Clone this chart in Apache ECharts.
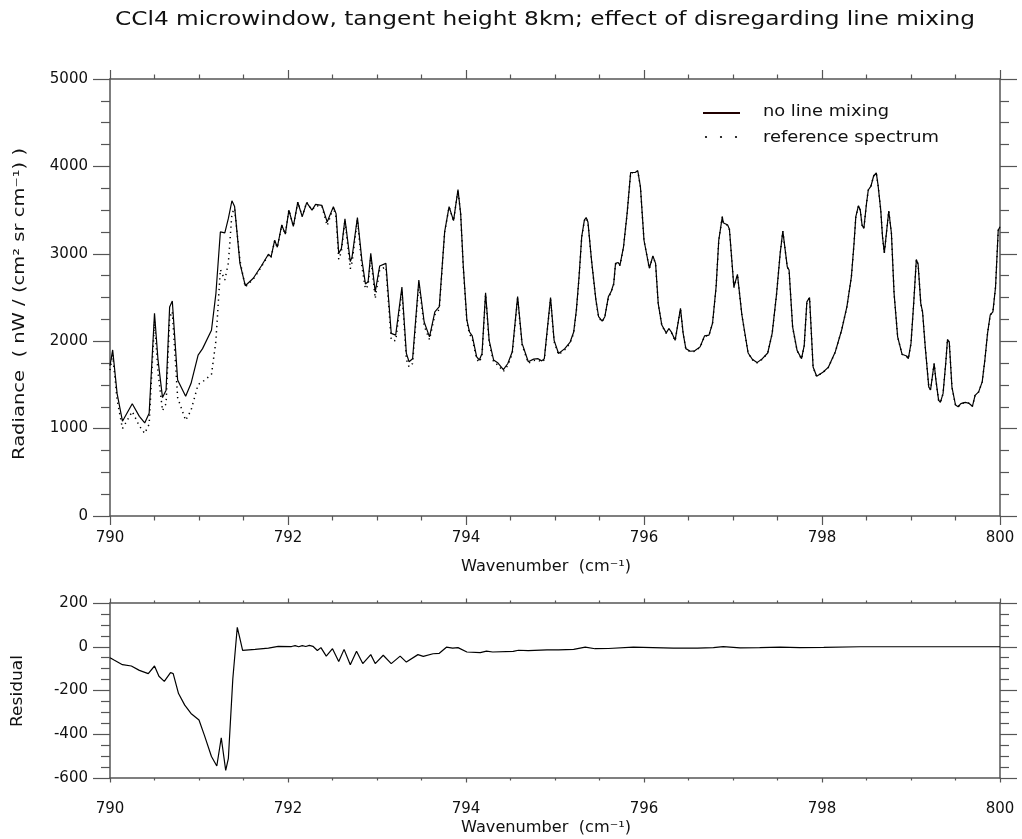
<!DOCTYPE html>
<html>
<head>
<meta charset="utf-8">
<script src="https://cdn.jsdelivr.net/npm/echarts@6/dist/echarts.min.js"></script>
<style>
html,body{margin:0;padding:0;background:#fff;}
#chart{width:1022px;height:839px;}
</style>
</head>
<body>
<div id="chart"></div>
<script>
// ---------------- data ----------------
const titleText = 'CCl4 microwindow, tangent height 8km; effect of disregarding line mixing';
const seriesNames = ['no line mixing', 'reference spectrum'];
const xAxisTitle = 'Wavenumber  (cm\u207B\u00B9)';
const radianceTitle = 'Radiance  ( nW / (cm\u00B2 sr cm\u207B\u00B9) )';
const residualTitle = 'Residual';

const wavenumber = [
790.00,790.03,790.08,790.14,790.25,790.33,790.39,790.44,790.50,790.54,
790.59,790.63,790.67,790.70,790.76,790.85,790.91,790.99,791.04,791.14,
791.19,791.24,791.29,791.33,791.37,791.40,791.46,791.52,791.61,791.70,
791.78,791.81,791.85,791.88,791.93,791.97,792.01,792.06,792.11,792.16,
792.21,792.27,792.31,792.38,792.44,792.51,792.54,792.57,792.60,792.64,
792.70,792.72,792.78,792.83,792.87,792.90,792.93,792.98,793.03,793.10,
793.12,793.16,793.21,793.28,793.33,793.36,793.40,793.47,793.53,793.55,
793.59,793.65,793.70,793.76,793.81,793.86,793.91,793.94,793.97,794.01,
794.04,794.07,794.12,794.15,794.18,794.22,794.26,794.31,794.36,794.42,
794.47,794.52,794.58,794.63,794.70,794.76,794.81,794.85,794.88,794.95,
794.99,795.04,795.11,795.17,795.21,795.24,795.27,795.30,795.33,795.35,
795.37,795.41,795.46,795.49,795.53,795.56,795.60,795.63,795.66,795.68,
795.71,795.73,795.77,795.81,795.85,795.90,795.93,795.96,796.00,796.06,
796.08,796.10,796.13,796.16,796.20,796.25,796.28,796.31,796.35,796.41,
796.44,796.47,796.52,796.57,796.63,796.68,796.73,796.77,796.81,796.84,
796.88,796.89,796.94,796.96,797.01,797.05,797.10,797.12,797.17,797.22,
797.27,797.33,797.39,797.44,797.49,797.53,797.56,797.61,797.63,797.67,
797.72,797.77,797.80,797.83,797.86,797.90,797.94,798.01,798.07,798.15,
798.22,798.28,798.33,798.36,798.38,798.41,798.43,798.45,798.47,798.50,
798.52,798.55,798.58,798.61,798.63,798.66,798.68,798.70,798.72,798.75,
798.78,798.81,798.85,798.90,798.95,798.97,799.00,799.03,799.06,799.08,
799.11,799.13,799.16,799.20,799.22,799.26,799.28,799.31,799.33,799.36,
799.39,799.41,799.43,799.46,799.50,799.53,799.56,799.61,799.65,799.69,
799.72,799.76,799.80,799.83,799.86,799.89,799.92,799.95,799.98,800.00
];

const noLineMixing = [
1720,1900,1400,1085,1285,1140,1065,1175,2320,1780,
1355,1440,2390,2460,1555,1370,1515,1840,1915,2125,
2545,3250,3240,3405,3607,3540,2890,2635,2720,2860,
2995,2965,3155,3075,3330,3225,3500,3315,3590,3425,
3585,3500,3565,3555,3365,3540,3460,3005,3060,3400,
2910,2965,3415,2930,2655,2680,3005,2565,2860,2890,
2620,2090,2070,2620,1860,1765,1800,2700,2220,2200,
2050,2335,2395,3250,3540,3380,3735,3460,2850,2240,
2105,2060,1820,1785,1860,2555,2010,1785,1750,1675,
1745,1880,2510,1975,1765,1795,1800,1775,1800,2500,
2010,1860,1915,1990,2105,2355,2735,3195,3385,3415,
3365,2930,2470,2280,2230,2280,2510,2565,2660,2890,
2900,2870,3080,3460,3930,3930,3950,3765,3155,2835,
2815,2975,2890,2430,2185,2095,2145,2100,2010,2375,
2090,1915,1885,1890,1935,2060,2070,2205,2620,3155,
3425,3355,3330,3280,2620,2765,2300,2290,1865,1790,
1755,1800,1865,2090,2545,3005,3260,2850,2815,2165,
1895,1800,1950,2450,2500,1705,1600,1645,1700,1880,
2125,2395,2735,3120,3425,3550,3500,3330,3290,3575,
3730,3775,3890,3925,3785,3500,3195,3010,3200,3490,
3235,2545,2050,1850,1830,1800,1975,2430,2935,2880,
2430,2335,1935,1475,1445,1745,1555,1325,1300,1400,
1745,2020,1990,1475,1270,1250,1285,1300,1290,1255,
1380,1420,1535,1785,2090,2300,2335,2620,3270,3310
];

const referenceSpectrum = [
1670,1845,1330,1000,1195,1030, 945,1050,2230,1640,
1205,1285,2270,2340,1355,1095,1208,1505,1535,1620,
2005,2820,2700,2895,3460,3520,2925,2620,2710,2850,
2987,2957,3150,3072,3328,3223,3502,3316,3594,3428,
3590,3502,3548,3549,3322,3530,3420,2938,3025,3386,
2828,2905,3392,2858,2598,2638,2967,2488,2818,2850,
2562,2013,2005,2576,1790,1705,1745,2662,2176,2158,
2018,2303,2365,3248,3535,3375,3731,3450,2832,2216,
2079,2033,1793,1758,1834,2535,1987,1761,1727,1653,
1723,1859,2493,1958,1747,1779,1784,1760,1786,2486,
1996,1846,1902,1978,2093,2343,2724,3186,3380,3412,
3360,2922,2461,2272,2222,2272,2502,2557,2653,2884,
2895,2866,3076,3457,3928,3928,3948,3762,3151,2830,
2811,2971,2886,2426,2180,2089,2139,2094,2004,2369,
2084,1909,1879,1884,1929,2055,2066,2201,2617,3152,
3424,3356,3326,3276,2615,2760,2295,2285,1861,1786,
1751,1796,1862,2087,2542,3003,3258,2847,2812,2161,
1891,1796,1946,2447,2497,1702,1597,1642,1697,1878,
2124,2394,2734,3119,3424,3549,3499,3329,3289,3574,
3729,3774,3889,3924,3784,3499,3194,3009,3199,3489,
3234,2544,2049,1849,1829,1799,1974,2429,2934,2879,
2429,2334,1934,1474,1444,1744,1554,1324,1299,1399,
1744,2019,1989,1474,1269,1249,1284,1299,1289,1254,
1379,1419,1534,1784,2089,2299,2334,2619,3269,3309
];

const residualWavenumber = [
790.00,790.05,790.14,790.24,790.33,790.43,790.50,790.55,790.61,790.68,
790.71,790.77,790.84,790.91,791.00,791.06,791.14,791.20,791.25,791.30,
791.33,791.38,791.43,791.46,791.49,791.63,791.78,791.89,792.04,792.08,
792.12,792.16,792.20,792.24,792.28,792.33,792.37,792.43,792.50,792.57,
792.63,792.70,792.77,792.84,792.93,792.98,793.07,793.16,793.26,793.33,
793.46,793.52,793.63,793.70,793.78,793.85,793.91,794.01,794.16,794.23,
794.30,794.53,794.59,794.70,794.91,795.04,795.21,795.34,795.45,795.60,
795.88,796.10,796.33,796.60,796.78,796.89,797.08,797.30,797.53,797.75,
798.02,798.43,798.96,799.50,800.00
];

const residual = [
 -50, -62, -82, -88,-108,-123, -88,-135,-158,-118,
-123,-214,-267,-305,-335,-404,-502,-545,-416,-565,
-510,-146,  89,  37, -17, -12,  -6,   2,   1,   5,
   0,   5,   1,   6,   2, -17,  -4, -43,  -9, -67,
 -12, -82, -21, -77, -36, -77, -39, -77, -43, -70,
 -36, -44, -32, -30,  -2,  -6,  -4, -24, -27, -20,
 -24, -21, -16, -18, -14, -14, -12,  -2,  -9,  -8,
  -2,  -4,  -6,  -6,  -4,   1,  -5,  -4,  -2,  -4,
  -3,   0,   0,   0,   0
];

const xRange = [790, 800];
const xStep = 2;
const radianceRange = [0, 5000];
const radianceStep = 1000;
const residualRange = [-600, 200];
const residualStep = 200;

// ---------------- chart ----------------
const FONT = '"DejaVu Sans", "Liberation Sans", sans-serif';
const AXIS_COLOR = '#555';
const TEXT_COLOR = '#111';

function pairs(xs, ys) { return xs.map((x, i) => [x, ys[i]]); }

function xAxisDef(gridIndex, position, showLabels, majorLen, minorLen, labelMargin) {
  return {
    type: 'value', gridIndex, position,
    min: xRange[0], max: xRange[1], interval: xStep,
    axisLine: { show: true, onZero: false, lineStyle: { color: AXIS_COLOR, width: 1.5 } },
    axisTick: { show: true, inside: false, length: majorLen, lineStyle: { color: AXIS_COLOR, width: 1.2 } },
    minorTick: { show: true, splitNumber: 4, length: minorLen, lineStyle: { color: AXIS_COLOR, width: 1.2 } },
    splitLine: { show: false }, minorSplitLine: { show: false },
    axisLabel: { show: showLabels, fontFamily: FONT, fontSize: 15, color: TEXT_COLOR, margin: labelMargin || 13,
                 formatter: v => String(v) }
  };
}
function yAxisDef(gridIndex, position, range, step, showLabels) {
  return {
    type: 'value', gridIndex, position,
    min: range[0], max: range[1], interval: step,
    axisLine: { show: true, onZero: false, lineStyle: { color: AXIS_COLOR, width: 1.5 } },
    axisTick: { show: true, inside: false, length: 17, lineStyle: { color: AXIS_COLOR, width: 1.2 } },
    minorTick: { show: true, splitNumber: 4, length: 9, lineStyle: { color: AXIS_COLOR, width: 1.2 } },
    splitLine: { show: false }, minorSplitLine: { show: false },
    axisLabel: { show: showLabels, fontFamily: FONT, fontSize: 15, color: TEXT_COLOR, margin: 22,
                 formatter: v => String(v) }
  };
}

// stretch texts horizontally to imitate the wide vector font of the original
const ctx = document.createElement('canvas').getContext('2d');
function stretch(text, font, targetWidth) {
  ctx.font = font;
  return targetWidth / ctx.measureText(text).width;
}
const titleFont = '19px "DejaVu Sans"';
const nameFont = '15px "DejaVu Sans"';
const legendFont = '16px "DejaVu Sans"';

function label(text, font, x, y, width, rotation) {
  return {
    type: 'text', x, y, rotation: rotation || 0, scaleX: stretch(text, font, width), scaleY: 1,
    style: { text, font, fill: TEXT_COLOR,
             align: 'center', verticalAlign: 'middle', textAlign: 'center', textVerticalAlign: 'middle' }
  };
}
function legendLabel(text, x, y, width) {
  return {
    type: 'text', x, y, scaleX: stretch(text, legendFont, width), scaleY: 1,
    style: { text, font: legendFont, fill: TEXT_COLOR,
             align: 'left', verticalAlign: 'middle', textAlign: 'left', textVerticalAlign: 'middle' }
  };
}

const chart = echarts.init(document.getElementById('chart'), null, { renderer: 'canvas' });
chart.setOption({
  animation: false,
  backgroundColor: '#fff',
  grid: [
    { left: 110, top: 79, width: 890, height: 437 },
    { left: 110, top: 603, width: 890, height: 175 }
  ],
  xAxis: [
    xAxisDef(0, 'bottom', true, 9, 4.5, 15),
    xAxisDef(0, 'top', false, 9, 4.5),
    xAxisDef(1, 'bottom', true, 4.5, 2.5, 24),
    xAxisDef(1, 'top', false, 4.5, 2.5)
  ],
  yAxis: [
    yAxisDef(0, 'left', radianceRange, radianceStep, true),
    yAxisDef(0, 'right', radianceRange, radianceStep, false),
    yAxisDef(1, 'left', residualRange, residualStep, true),
    yAxisDef(1, 'right', residualRange, residualStep, false)
  ],
  series: [
    { name: seriesNames[0], type: 'line', xAxisIndex: 0, yAxisIndex: 0, data: pairs(wavenumber, noLineMixing),
      showSymbol: false, symbol: 'none', clip: true, z: 3,
      lineStyle: { color: '#000', width: 1.2 } },
    { name: seriesNames[1], type: 'line', xAxisIndex: 0, yAxisIndex: 0, data: pairs(wavenumber, referenceSpectrum),
      showSymbol: false, symbol: 'none', clip: true, z: 2,
      lineStyle: { color: '#000', width: 1.5, type: [1.3, 4] } },
    { name: 'residual', type: 'line', xAxisIndex: 2, yAxisIndex: 2, data: pairs(residualWavenumber, residual),
      showSymbol: false, symbol: 'none', clip: true,
      lineStyle: { color: '#000', width: 1.2 } }
  ],
  graphic: [
    label(titleText, titleFont, 545, 20, 860),
    label(xAxisTitle, nameFont, 546, 567, 170),
    label(xAxisTitle, nameFont, 546, 828, 170),
    label(radianceTitle, nameFont, 20, 304, 312, Math.PI / 2),
    label(residualTitle, nameFont, 18, 691, 72, Math.PI / 2),
    { type: 'line', shape: { x1: 703, y1: 113, x2: 740, y2: 113 }, style: { stroke: '#200000', lineWidth: 2 } },
    { type: 'circle', shape: { cx: 706, cy: 137, r: 1.1 }, style: { fill: '#000' } },
    { type: 'circle', shape: { cx: 721, cy: 137, r: 1.1 }, style: { fill: '#000' } },
    { type: 'circle', shape: { cx: 736, cy: 137, r: 1.1 }, style: { fill: '#000' } },
    legendLabel(seriesNames[0], 763, 112, 126),
    legendLabel(seriesNames[1], 763, 138, 176)
  ]
});
</script>
</body>
</html>
